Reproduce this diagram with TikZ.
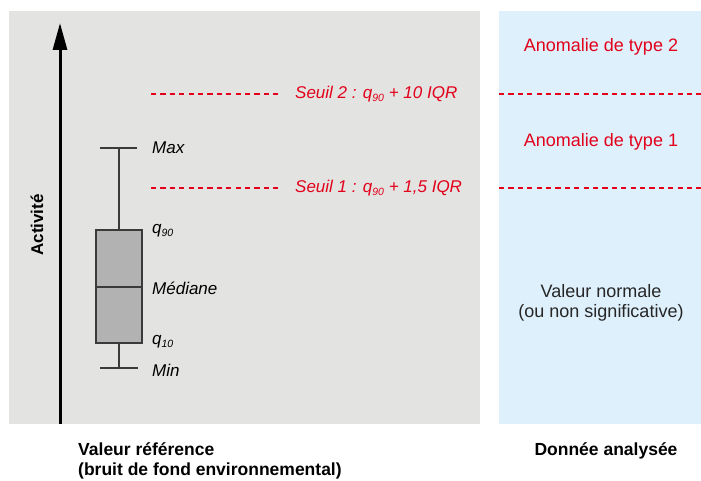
\documentclass[tikz,border=0pt]{standalone}
\usepackage{fontspec}
\setmainfont{Liberation Sans}
\usetikzlibrary{arrows.meta}
\definecolor{panelgray}{HTML}{E3E3E2}
\definecolor{panelblue}{HTML}{DEF0FC}
\definecolor{seuilred}{HTML}{E2001A}
\definecolor{boxfill}{HTML}{B2B2B2}
\definecolor{boxline}{HTML}{3A3A3A}
\newcommand{\sbs}[1]{\raisebox{-0.35ex}{\fontsize{10.5}{10.5}\selectfont #1}}
\tikzset{
  seuil/.style={draw=seuilred, line width=2.2pt, dash pattern=on 5.2pt off 4.2pt},
  redlbl/.style={text=seuilred, font=\fontsize{18}{21}\selectfont},
  itlbl/.style={font=\fontsize{17}{20}\selectfont\itshape, anchor=west, inner sep=0pt},
  boxst/.style={draw=boxline, line width=1.4pt},
  bottomlbl/.style={font=\fontsize{17.5}{20}\selectfont\bfseries, align=left},
}
\begin{document}
\begin{tikzpicture}[x=1pt,y=-1pt]
\useasboundingbox (0,0) rectangle (701,481);
\fill[panelgray] (9,11) rectangle (480,424);
\fill[panelblue] (499,11) rectangle (701,424);
% axis
\coordinate (axb) at (60,424);
\coordinate (axt) at (60,23);
\draw[line width=3pt, -{Triangle[length=27pt,width=14pt]}] (axb) -- (axt);
\node[rotate=90, font=\fontsize{17}{20}\selectfont\bfseries] (act) at (37,225) {Activité};
% thresholds left
\coordinate (s2a) at (151,94); \coordinate (s2b) at (279,94);
\coordinate (s1a) at (151,188); \coordinate (s1b) at (279,188);
\draw[seuil] (s2a) -- (s2b);
\draw[seuil] (s1a) -- (s1b);
\node[itlbl, text=seuilred] (s2lbl) at (295,94) {Seuil 2 : q\sbs{90} + 10 IQR};
\node[itlbl, text=seuilred] (s1lbl) at (295,188) {Seuil 1 : q\sbs{90} + 1,5 IQR};
% thresholds right
\coordinate (r2a) at (499,94); \coordinate (r2b) at (701,94);
\coordinate (r1a) at (499,188); \coordinate (r1b) at (701,188);
\draw[seuil] (r2a) -- (r2b);
\draw[seuil] (r1a) -- (r1b);
\node[redlbl] (an2) at (601,47) {Anomalie de type 2};
\node[redlbl] (an1) at (601,142) {Anomalie de type 1};
\node[font=\fontsize{18}{20.5}\selectfont, align=center, text=black!85] (norm) at (601,303) {Valeur normale\\(ou non significative)};
% box plot
\coordinate (maxl) at (100,148); \coordinate (maxr) at (137,148); \coordinate (maxc) at (119,148);
\coordinate (minl) at (100,368); \coordinate (minr) at (138,368); \coordinate (minc) at (119,368);
\coordinate (boxt) at (119,230); \coordinate (boxb) at (119,343);
\draw[boxst] (maxl) -- (maxr);
\draw[boxst] (maxc) -- (boxt);
\draw[boxst] (boxb) -- (minc);
\draw[boxst] (minl) -- (minr);
\draw[boxst, fill=boxfill] (96,230) rectangle (142,343);
\draw[boxst] (96,287) -- (142,287);
\node[itlbl] (lmax) at (152,148) {Max};
\node[itlbl] (lq90) at (152,231) {q\sbs{90}};
\node[itlbl] (lmed) at (152,288) {Médiane};
\node[itlbl] (lq10) at (152,342) {q\sbs{10}};
\node[itlbl] (lmin) at (152,370) {Min};
% bottom labels
\node[bottomlbl, anchor=north west, inner sep=0pt] (vref) at (78,442) {Valeur référence\\(bruit de fond environnemental)};
\node[bottomlbl, anchor=north, inner sep=0pt] (don) at (606,442) {Donnée analysée};
\end{tikzpicture}
\end{document}
